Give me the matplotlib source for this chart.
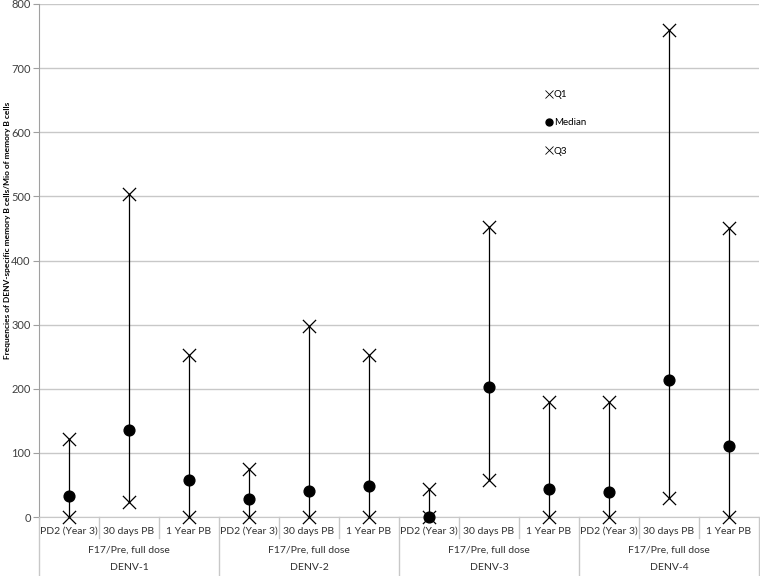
import matplotlib
matplotlib.use("Agg")
import matplotlib.pyplot as plt
from matplotlib.lines import Line2D
import matplotlib.transforms as mtransforms

plt.rcParams['font.family'] = ['Lato', 'DejaVu Sans']

# ---- data ----
timepoints = ["PD2 (Year 3)", "30 days PB", "1 Year PB"]
subgroups = ["F17/Pre, full dose"] * 4
serotypes = ["DENV-1", "DENV-2", "DENV-3", "DENV-4"]

q1 = [0, 24, 0,   0, 0, 0,   0, 58, 0,   0, 30, 0]
median = [33, 135, 57,   28, 41, 48,   0, 202, 43,   39, 213, 110]
q3 = [122, 503, 252,   75, 298, 253,   43, 453, 180,   179, 760, 450]

y_ticks = [0, 100, 200, 300, 400, 500, 600, 700, 800]
y_label = "Frequencies of DENV-specific memory B cells/Mio of memory B cells"

# ---- figure ----
fig = plt.figure(figsize=(7.6, 5.76), dpi=100)
ax = fig.add_axes([39/760, 1-517/576, 720/760, 513/576])

n = len(q1)
xs = list(range(n))
ax.vlines(xs, q1, q3, color="black", linewidth=0.9, zorder=2)
ax.scatter(xs, q3, marker="x", s=90, color="black", linewidths=0.9, zorder=3, clip_on=False)
ax.scatter(xs, median, marker="o", s=60, color="black", zorder=4, clip_on=False)
ax.scatter(xs, q1, marker="x", s=90, color="black", linewidths=0.9, zorder=3, clip_on=False)

ax.set_xlim(-0.5, n - 0.5)
ax.set_ylim(0, 800)
ax.set_yticks(y_ticks)
ax.set_yticklabels([str(t) for t in y_ticks], fontsize=8, color="#404040")
ax.tick_params(axis="y", length=4, color="#a0a0a0", pad=2)
ax.set_xticks([])
ax.grid(axis="y", color="#c8c8c8", linewidth=1.0, zorder=0)
ax.set_axisbelow(True)
for s in ["top", "right"]:
    ax.spines[s].set_visible(False)
ax.spines["left"].set_color("#a0a0a0")
ax.spines["bottom"].set_color("#c8c8c8")

fig.text(8/760, 1 - 230/576, y_label, rotation=90, ha="center", va="center",
         fontsize=6.0, fontweight="bold", color="black")

# ---- hierarchical x axis ----
trans = mtransforms.blended_transform_factory(ax.transData, fig.transFigure)
def fy(py):
    return 1 - py / 576

for i in range(n):
    ax.text(i, fy(531), timepoints[i % 3], transform=trans, ha="center", va="center",
            fontsize=7.5, color="#303030", clip_on=False)
for g in range(4):
    cx = g * 3 + 1
    ax.text(cx, fy(550), subgroups[g], transform=trans, ha="center", va="center",
            fontsize=7.5, color="#303030", clip_on=False)
    ax.text(cx, fy(568), serotypes[g], transform=trans, ha="center", va="center",
            fontsize=7.5, color="#303030", clip_on=False)
# separators
for i in range(n + 1):
    xb = i - 0.5
    if i % 3 == 0:
        y0 = fy(576)
    else:
        y0 = fy(538)
    ax.add_line(Line2D([xb, xb], [y0, fy(517)], transform=trans, color="#c8c8c8",
                       linewidth=1.0, clip_on=False))

# ---- legend ----
handles = [
    Line2D([], [], marker="x", linestyle="none", color="black", markersize=6, markeredgewidth=0.6),
    Line2D([], [], marker="o", linestyle="none", color="black", markersize=5),
    Line2D([], [], marker="x", linestyle="none", color="black", markersize=6, markeredgewidth=0.6),
]
leg = ax.legend(handles, ["Q1", "Median", "Q3"], loc="upper left",
                bbox_to_anchor=(546/760, 1 - 90/576), bbox_transform=fig.transFigure,
                frameon=False, fontsize=7, handlelength=0.6, handletextpad=0.2,
                labelspacing=2.0, borderpad=0, borderaxespad=0)

fig.savefig("out.png", dpi=100)
